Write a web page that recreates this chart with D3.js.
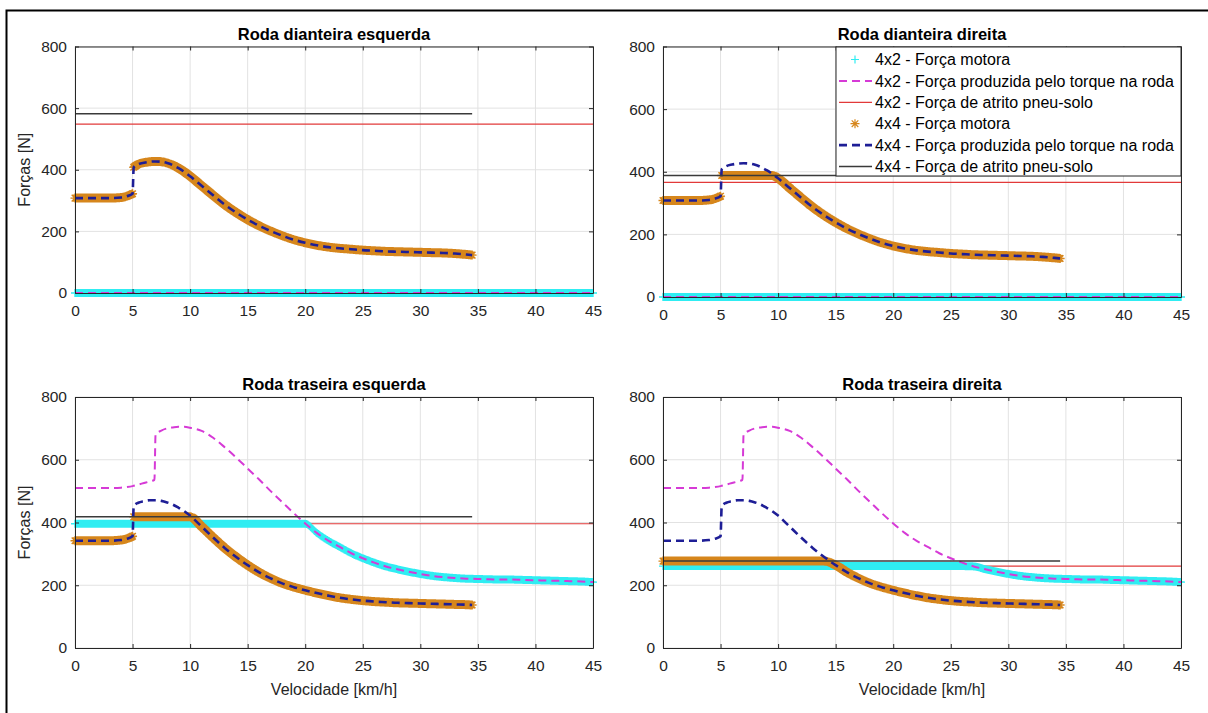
<!DOCTYPE html>
<html>
<head>
<meta charset="utf-8">
<script src="https://cdn.jsdelivr.net/npm/d3@7"></script>
<style>
  body { margin: 0; background: #fff; }
  svg { display: block; }
  text { font-family: "Liberation Sans", Arial, Helvetica, sans-serif; }
</style>
</head>
<body>
<script>
// ---- Speed grids (km/h) ----
const speed4x4 = [0,1,2,3,4,4.5,5,5.1,5.5,6,6.5,7,7.5,8,8.5,9,9.5,10,11,12,13,14,15,16,17,18,19,20,21,22,23,24,25,26,27,28,29,30,31,32,33,34,34.5];
const speed4x2 = [0,1,2,3,4,4.5,5,5.5,6,6.5,6.9,7,7.5,8,8.5,9,9.5,10,11,12,13,14,15,16,17,18,19,20,21,22,23,24,25,26,27,28,29,30,31,32,33,34,35,36,37,38,39,40,41,42,43,44,45];
const speedFull = [0, 45];
const speed4x4End = [0, 34.5];

// ---- Front wheels, 4x2 (no traction on the front axle) ----
const frontMotor4x2  = [0, 0];
const frontTorque4x2 = [0, 0];

// ---- Front wheels, 4x4 (N) ----
const frontTorque4x4     = [308,308,308,308,310,314,322,408,418,423,426,427,426,422,415,405,393,379,348,317,287,261,238,218,201,186,173,163,155,149,145,142,139,137,135,134,133,132,131,130,128,125,123];
const frontLeftMotor4x4  = [308,308,308,308,310,314,322,408,418,423,426,427,426,422,415,405,393,379,348,317,287,261,238,218,201,186,173,163,155,149,145,142,139,137,135,134,133,132,131,130,128,125,123];
const frontRightMotor4x4 = [308,308,308,308,310,314,322,388,388,388,388,388,388,388,388,388,388,379,348,317,287,261,238,218,201,186,173,163,155,149,145,142,139,137,135,134,133,132,131,130,128,125,123];

// ---- Rear wheels, 4x2 (N) ----
const rearTorque4x2     = [510,510,510,510,511,513,516,521,526,531,536,680,693,700,703,705,705,702,692,670,640,607,572,537,500,465,430,397,367,342,322,302,286,272,260,251,243,236,230,226,223,221,220,219,218,218,217,216,215,214,213,212,210];
const rearLeftMotor4x2  = [396,396,396,396,396,396,396,396,396,396,396,396,396,396,396,396,396,396,396,396,396,396,396,396,396,396,396,396,367,342,322,302,286,272,260,251,243,236,230,226,223,221,220,219,218,218,217,216,215,214,213,212,210];
const rearRightMotor4x2 = [261,261,261,261,261,261,261,261,261,261,261,261,261,261,261,261,261,261,261,261,261,261,261,261,261,261,261,261,261,261,261,261,261,261,260,251,243,236,230,226,223,221,220,219,218,218,217,216,215,214,213,212,210];

// ---- Rear wheels, 4x4 (N) ----
const rearTorque4x4     = [342,342,342,342,344,348,356,452,463,468,471,471,469,464,457,447,436,422,387,352,319,290,264,241,222,206,194,184,175,167,160,155,151,148,146,144,143,142,141,140,139,138,137];
const rearLeftMotor4x4  = [342,342,342,342,344,348,356,418,418,418,418,418,418,418,418,418,418,418,387,352,319,290,264,241,222,206,194,184,175,167,160,155,151,148,146,144,143,142,141,140,139,138,137];
const rearRightMotor4x4 = [277,277,277,277,277,277,277,277,277,277,277,277,277,277,277,277,277,277,277,277,277,277,264,241,222,206,194,184,175,167,160,155,151,148,146,144,143,142,141,140,139,138,137];

// ---- Tyre-ground friction limits (N) ----
const frictionFL4x2 = [548, 548], frictionFL4x4 = [582, 582];
const frictionFR4x2 = [366, 366], frictionFR4x4 = [388, 388];
const frictionRL4x2 = [396, 396], frictionRL4x4 = [418, 418];
const frictionRR4x2 = [261, 261], frictionRR4x4 = [277, 277];

// ---- Axes ----
const xTicks = [0,5,10,15,20,25,30,35,40,45];
const yTicks = [0,200,400,600,800];
const titles = ["Roda dianteira esquerda", "Roda dianteira direita", "Roda traseira esquerda", "Roda traseira direita"];
const legendLabels = [
  "4x2 - Força motora",
  "4x2 - Força produzida pelo torque na roda",
  "4x2 - Força de atrito pneu-solo",
  "4x4 - Força motora",
  "4x4 - Força produzida pelo torque na roda",
  "4x4 - Força de atrito pneu-solo"
];

// Series styles, in legend order
const seriesStyle = [
  { key: "motor2",    kind: "markers", glyph: "plus", color: "#2FEDF2" },
  { key: "torque2",   kind: "dashed",  color: "#D63AD6", width: 2 },
  { key: "friction2", kind: "solid",   color: "#E23A3A", width: 1.2 },
  { key: "motor4",    kind: "markers", glyph: "star", color: "#D6861C" },
  { key: "torque4",   kind: "dashed",  color: "#1E1E96", width: 2.6 },
  { key: "friction4", kind: "solid",   color: "#3a3a3a", width: 1.5 }
];
// drawing order: 4x2 friction line sits beneath the marker bands
const drawOrder = ["friction2", "motor2", "torque2", "motor4", "torque4", "friction4"];

const panels = [
  { title: titles[0], box: [75, 46.5, 593, 293], yLabel: true, xLabel: false, legend: false,
    data: { motor2: [speedFull, frontMotor4x2], torque2: [speedFull, frontTorque4x2], friction2: [speedFull, frictionFL4x2],
            motor4: [speed4x4, frontLeftMotor4x4], torque4: [speed4x4, frontTorque4x4], friction4: [speed4x4End, frictionFL4x4] } },
  { title: titles[1], box: [663, 46.5, 1181, 297], yLabel: false, xLabel: false, legend: true,
    data: { motor2: [speedFull, frontMotor4x2], torque2: [speedFull, frontTorque4x2], friction2: [speedFull, frictionFR4x2],
            motor4: [speed4x4, frontRightMotor4x4], torque4: [speed4x4, frontTorque4x4], friction4: [speed4x4End, frictionFR4x4] } },
  { title: titles[2], box: [75, 397, 593, 648], yLabel: true, xLabel: true, legend: false,
    data: { motor2: [speed4x2, rearLeftMotor4x2], torque2: [speed4x2, rearTorque4x2], friction2: [speedFull, frictionRL4x2],
            motor4: [speed4x4, rearLeftMotor4x4], torque4: [speed4x4, rearTorque4x4], friction4: [speed4x4End, frictionRL4x4] } },
  { title: titles[3], box: [663, 397, 1181, 648], yLabel: false, xLabel: true, legend: false,
    data: { motor2: [speed4x2, rearRightMotor4x2], torque2: [speed4x2, rearTorque4x2], friction2: [speedFull, frictionRR4x2],
            motor4: [speed4x4, rearRightMotor4x4], torque4: [speed4x4, rearTorque4x4], friction4: [speed4x4End, frictionRR4x4] } }
];

const W = 1208, H = 713;
const AXIS = "#262626";
const svg = d3.select("body").append("svg").attr("width", W).attr("height", H);
svg.append("rect").attr("width", W).attr("height", H).attr("fill", "#fff");

// outer frame (top and left edges)
svg.append("path").attr("d", "M6.5,713V10.5H1208").attr("fill", "none").attr("stroke", "#000").attr("stroke-width", 2);

function glyphPath(px, py, glyph) {
  if (glyph === "plus") {
    return `M${px - 4},${py}H${px + 4}M${px},${py - 4}V${py + 4}`;
  }
  return `M${px - 4.5},${py}H${px + 4.5}M${px},${py - 4.5}V${py + 4.5}` +
         `M${px - 3.3},${py - 3.3}L${px + 3.3},${py + 3.3}M${px - 3.3},${py + 3.3}L${px + 3.3},${py - 3.3}`;
}

// Dense marker band following the series; steps between adjacent samples are left without markers
function drawMarkers(g, xs, ys, x, y, glyph, color) {
  const segs = [];
  let cur = [[xs[0], ys[0]]];
  for (let i = 1; i < xs.length; i++) {
    if (xs[i] - xs[i - 1] <= 0.15 && Math.abs(ys[i] - ys[i - 1]) > 40) { segs.push(cur); cur = []; }
    cur.push([xs[i], ys[i]]);
  }
  segs.push(cur);
  const line = d3.line().x(d => x(d[0])).y(d => y(d[1])).curve(d3.curveMonotoneX);
  let d = "";
  segs.forEach(s => {
    if (s.length === 1) { d += glyphPath(x(s[0][0]), y(s[0][1]), glyph); return; }
    const tmp = g.append("path").attr("d", line(s)).attr("fill", "none");
    const node = tmp.node();
    const len = node.getTotalLength();
    for (let t = 0; t < len; t += 1.2) {
      const p = node.getPointAtLength(t);
      d += glyphPath(p.x, p.y, glyph);
    }
    const pe = node.getPointAtLength(len);
    d += glyphPath(pe.x, pe.y, glyph);
    tmp.remove();
  });
  g.append("path").attr("d", d).attr("fill", "none").attr("stroke", color).attr("stroke-width", 1.4);
}

function styleAxis(sel) {
  sel.attr("font-size", 15.5).attr("font-family", "'Liberation Sans', Arial, sans-serif").attr("color", AXIS);
  sel.select(".domain").attr("stroke", AXIS).attr("stroke-width", 1);
  sel.selectAll(".tick line").attr("stroke", AXIS);
  sel.selectAll(".tick text").attr("fill", AXIS);
}

panels.forEach(p => {
  const [L, T, R, B] = p.box;
  const x = d3.scaleLinear().domain([0, 45]).range([L, R]);
  const y = d3.scaleLinear().domain([0, 800]).range([B, T]);
  const g = svg.append("g");

  // grid
  g.append("g").selectAll("line").data(xTicks).join("line")
    .attr("x1", d => x(d)).attr("x2", d => x(d)).attr("y1", T).attr("y2", B)
    .attr("stroke", "#e2e2e2").attr("stroke-width", 1);
  g.append("g").selectAll("line").data(yTicks).join("line")
    .attr("x1", L).attr("x2", R).attr("y1", d => y(d)).attr("y2", d => y(d))
    .attr("stroke", "#e2e2e2").attr("stroke-width", 1);

  // series
  const plot = g.append("g");
  drawOrder.forEach(key => {
    const s = seriesStyle.find(v => v.key === key);
    const [xs, ys] = p.data[key];
    if (s.kind === "markers") {
      drawMarkers(plot, xs, ys, x, y, s.glyph, s.color);
    } else {
      const line = d3.line().x((d, i) => x(xs[i])).y(d => y(d)).curve(d3.curveMonotoneX);
      plot.append("path").attr("d", line(ys)).attr("fill", "none")
        .attr("stroke", s.color).attr("stroke-width", s.width)
        .attr("stroke-dasharray", s.kind === "dashed" ? "8,5" : null);
    }
  });

  // axes (box with inward ticks)
  g.append("g").attr("transform", `translate(0,${B})`)
    .call(d3.axisBottom(x).tickValues(xTicks).tickSizeInner(-4).tickSizeOuter(0).tickPadding(12))
    .call(styleAxis);
  g.append("g").attr("transform", `translate(${L},0)`)
    .call(d3.axisLeft(y).tickValues(yTicks).tickSizeInner(-4).tickSizeOuter(0).tickPadding(8))
    .call(styleAxis);
  g.append("g").attr("transform", `translate(0,${T})`)
    .call(d3.axisTop(x).tickValues(xTicks).tickSizeInner(-4).tickSizeOuter(0).tickFormat(""))
    .call(styleAxis);
  g.append("g").attr("transform", `translate(${R},0)`)
    .call(d3.axisRight(y).tickValues(yTicks).tickSizeInner(-4).tickSizeOuter(0).tickFormat(""))
    .call(styleAxis);

  // title
  g.append("text").attr("x", (L + R) / 2).attr("y", T - 7).attr("text-anchor", "middle")
    .attr("font-size", 16.5).attr("font-weight", "bold").attr("fill", "#000").text(p.title);

  if (p.yLabel) {
    g.append("text").attr("transform", `translate(24,${(T + B) / 2}) rotate(-90)`)
      .attr("text-anchor", "middle").attr("dy", "0.35em").attr("font-size", 16).attr("fill", AXIS)
      .text("Forças [N]");
  }
  if (p.xLabel) {
    g.append("text").attr("x", (L + R) / 2).attr("y", 689).attr("dy", "0.35em")
      .attr("text-anchor", "middle").attr("font-size", 16).attr("fill", AXIS)
      .text("Velocidade [km/h]");
  }

  if (p.legend) {
    const lg = g.append("g");
    const lx = 836, ly = 47, lw = R - 836, lh = 129;
    lg.append("rect").attr("x", lx).attr("y", ly).attr("width", lw).attr("height", lh)
      .attr("fill", "#fff").attr("stroke", AXIS).attr("stroke-width", 1);
    legendLabels.forEach((label, i) => {
      const s = seriesStyle[i];
      const cy = 59.5 + i * 21.4;
      if (s.kind === "markers") {
        lg.append("path").attr("d", glyphPath(855, cy, s.glyph)).attr("fill", "none")
          .attr("stroke", s.color).attr("stroke-width", 1.2);
      } else {
        lg.append("line").attr("x1", 839).attr("x2", 872).attr("y1", cy).attr("y2", cy)
          .attr("stroke", s.color).attr("stroke-width", s.width)
          .attr("stroke-dasharray", s.kind === "dashed" ? "8,5" : null);
      }
      lg.append("text").attr("x", 875).attr("y", cy).attr("dy", "0.35em")
        .attr("font-size", 16).attr("fill", "#000").text(label);
    });
  }
});
</script>
</body>
</html>
